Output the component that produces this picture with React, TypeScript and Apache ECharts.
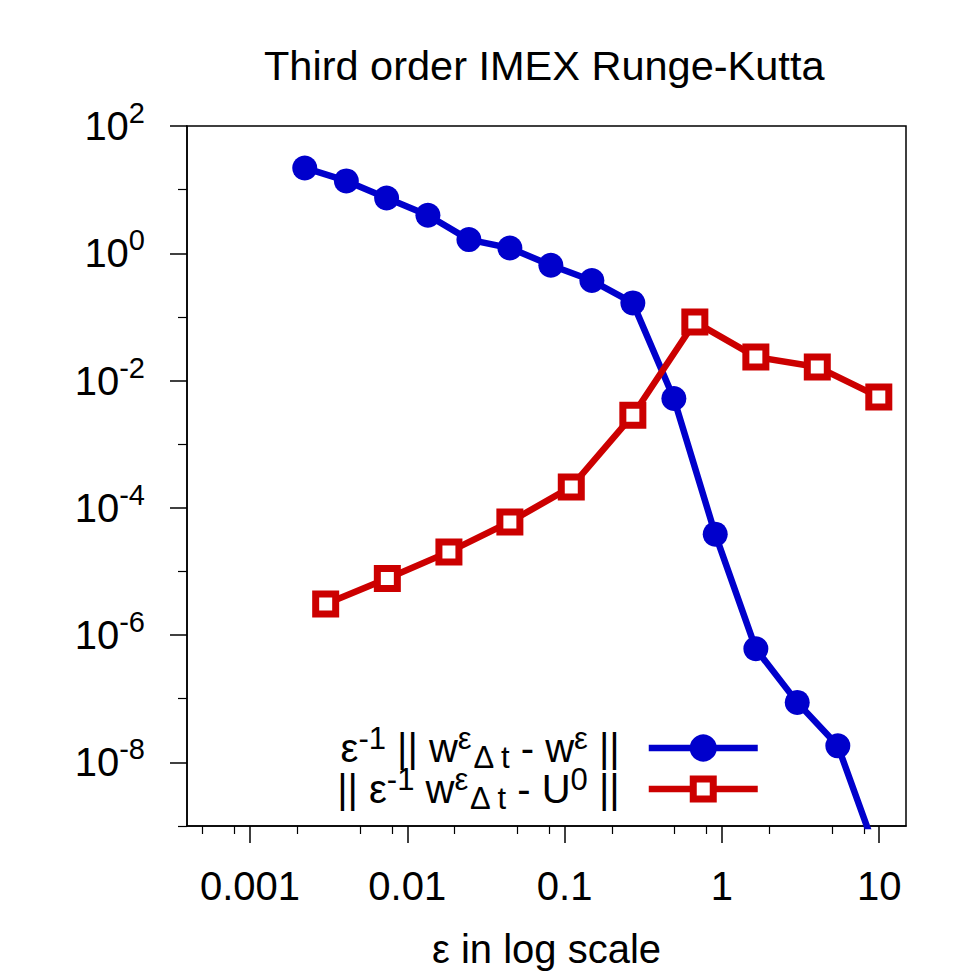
import React, { useEffect, useRef } from "react";
import * as echarts from "echarts";

// ---- data ----
const blueEps = [0.00223, 0.0041, 0.00739, 0.01353, 0.02465, 0.0449, 0.0818, 0.1491, 0.2716, 0.495, 0.907, 1.644, 3.012, 5.456, 9.94];
const blueErr = [21.9, 13.7, 7.4, 3.96, 1.64, 1.21, 0.648, 0.373, 0.166, 0.00522, 3.85e-5, 6.09e-7, 8.76e-8, 1.82e-8, 3.0e-10];
const redEps = [0.00303, 0.00747, 0.0184, 0.0449, 0.1103, 0.2716, 0.673, 1.644, 4.04, 9.94];
const redErr = [3.07e-6, 7.77e-6, 2.03e-5, 6.01e-5, 2.13e-4, 2.85e-3, 0.0834, 0.0235, 0.01637, 0.00553];

const xMajorTicks = [0.001, 0.01, 0.1, 1, 10];
const xTickLabels = ["0.001", "0.01", "0.1", "1", "10"];
const xMinorTicks = [0.0005, 0.0008, 0.002, 0.005, 0.008, 0.02, 0.05, 0.08, 0.2, 0.5, 0.8, 2, 5, 8];
const yMajorTicks = [1e-8, 1e-6, 1e-4, 1e-2, 1, 1e2];
const yTickExponents = ["-8", "-6", "-4", "-2", "0", "2"];
const yMinorTicks = [1e-9, 1e-7, 1e-5, 1e-3, 1e-1, 1e1];

const X_MIN = 0.000398;
const X_MAX = 14.8;
const Y_MIN = 1e-9;
const Y_MAX = 1e2;

const titleText = "Third order IMEX Runge-Kutta";
const xAxisName = "ε in log scale";
const blueName = "ε^-1 || w^ε_Δt - w^ε ||";
const redName = "|| ε^-1 w^ε_Δt - U^0 ||";
const blueLegendRich = "{b|ε}{sup|-1}{b| || w}{sup|ε}{sub|Δ t}{b| - w}{sup|ε}{b| ||}{gap|}";
const redLegendRich = "{b||| ε}{sup|-1}{b| w}{sup|ε}{sub|Δ t}{b| - U}{sup|0}{b| ||}{gap|}";

const BLUE = "#0000cc";
const RED = "#cc0000";
const FONT = "Liberation Sans, Arial, Helvetica, sans-serif";

function sameLog(a: number, b: number) {
  return Math.abs(Math.log10(a) - Math.log10(b)) < 1e-6;
}

export default function App() {
  const ref = useRef<HTMLDivElement>(null);

  useEffect(() => {
    document.body.style.margin = "0";
    if (!ref.current) return;
    const chart = echarts.init(ref.current, null, { renderer: "svg" });

    const gridPos = { left: 187, right: 69, top: 126, bottom: 149 };

    const option: any = {
      animation: false,
      backgroundColor: "#ffffff",
      title: {
        text: titleText,
        left: 264,
        top: 44,
        padding: 0,
        textStyle: { fontFamily: FONT, fontSize: 41.5, fontWeight: "normal", color: "#000" },
      },
      grid: [
        { ...gridPos, show: true, borderColor: "#000", borderWidth: 1.5, outerBoundsMode: "none", containLabel: false },
        { ...gridPos, show: false, outerBoundsMode: "none", containLabel: false },
      ],
      legend: {
        orient: "vertical",
        right: 214,
        top: 723,
        padding: 0,
        itemGap: -9,
        align: "right",
        itemWidth: 109,
        itemHeight: 25,
        selectedMode: false,
        data: [
          {
            name: blueName,
            itemStyle: { color: BLUE, borderColor: BLUE, borderWidth: 7 },
            lineStyle: { color: BLUE, width: 6.5 },
          },
          {
            name: redName,
            itemStyle: { color: "#fff", borderColor: RED, borderWidth: 7 },
            lineStyle: { color: RED, width: 6.5 },
          },
        ],
        formatter: (name: string) => (name === blueName ? blueLegendRich : redLegendRich),
        textStyle: {
          fontFamily: FONT,
          color: "#000",
          fontSize: 40,
          rich: {
            b: { fontFamily: FONT, fontSize: 40, lineHeight: 50, color: "#000" },
            sup: { fontFamily: FONT, fontSize: 31, lineHeight: 14, verticalAlign: "top", color: "#000" },
            sub: { fontFamily: FONT, fontSize: 31, lineHeight: 10, verticalAlign: "bottom", color: "#000" },
            gap: { width: 24 },
          },
        },
      },
      xAxis: [
        {
          type: "log",
          logBase: 10,
          gridIndex: 0,
          min: X_MIN,
          max: X_MAX,
          position: "bottom",
          name: xAxisName,
          nameLocation: "middle",
          nameGap: 103,
          nameTextStyle: { fontFamily: FONT, fontSize: 40, color: "#000" },
          axisLine: { show: true, lineStyle: { color: "#000", width: 1.5 } },
          axisTick: { show: true, inside: false, length: 17, customValues: xMajorTicks, lineStyle: { color: "#000", width: 1.5 } },
          axisLabel: {
            show: true,
            margin: 40,
            customValues: xMajorTicks,
            fontFamily: FONT,
            fontSize: 40,
            color: "#000",
            formatter: (v: number) => {
              const i = xMajorTicks.findIndex((t) => sameLog(t, v));
              return i >= 0 ? xTickLabels[i] : "";
            },
          },
          splitLine: { show: false },
          minorTick: { show: false },
        },
        {
          type: "log",
          logBase: 10,
          gridIndex: 1,
          min: X_MIN,
          max: X_MAX,
          position: "bottom",
          axisLine: { show: false },
          axisTick: { show: true, inside: false, length: 8, customValues: xMinorTicks, lineStyle: { color: "#000", width: 1.2 } },
          axisLabel: { show: false },
          splitLine: { show: false },
        },
      ],
      yAxis: [
        {
          type: "log",
          logBase: 10,
          gridIndex: 0,
          min: Y_MIN,
          max: Y_MAX,
          position: "left",
          axisLine: { show: true, lineStyle: { color: "#000", width: 1.5 } },
          axisTick: { show: true, inside: false, length: 17, customValues: yMajorTicks, lineStyle: { color: "#000", width: 1.5 } },
          axisLabel: {
            show: true,
            margin: 42,
            customValues: yMajorTicks,
            fontFamily: FONT,
            fontSize: 40,
            color: "#000",
            formatter: (v: number) => {
              const i = yMajorTicks.findIndex((t) => sameLog(t, v));
              return i >= 0 ? `{b|10}{s|${yTickExponents[i]}}` : "";
            },
            rich: {
              b: { fontFamily: FONT, fontSize: 40, lineHeight: 55, color: "#000" },
              s: { fontFamily: FONT, fontSize: 29, lineHeight: 27, verticalAlign: "top", color: "#000" },
            },
          },
          splitLine: { show: false },
          minorTick: { show: false },
        },
        {
          type: "log",
          logBase: 10,
          gridIndex: 1,
          min: Y_MIN,
          max: Y_MAX,
          position: "left",
          axisLine: { show: false },
          axisTick: { show: true, inside: false, length: 9, customValues: yMinorTicks, lineStyle: { color: "#000", width: 1.2 } },
          axisLabel: { show: false },
          splitLine: { show: false },
        },
      ],
      series: [
        {
          name: blueName,
          type: "line",
          xAxisIndex: 0,
          yAxisIndex: 0,
          data: blueEps.map((x, i) => [x, blueErr[i]]),
          symbol: "circle",
          symbolSize: 25,
          showAllSymbol: true,
          clip: true,
          lineStyle: { color: BLUE, width: 6.5 },
          itemStyle: { color: BLUE },
          z: 2,
        },
        {
          name: redName,
          type: "line",
          xAxisIndex: 0,
          yAxisIndex: 0,
          data: redEps.map((x, i) => [x, redErr[i]]),
          symbol: "rect",
          symbolSize: 20,
          showAllSymbol: true,
          clip: true,
          lineStyle: { color: RED, width: 6.5 },
          itemStyle: { color: "#fff", borderColor: RED, borderWidth: 7 },
          z: 3,
        },
      ],
    };

    chart.setOption(option);
    return () => {
      chart.dispose();
    };
  }, []);

  return <div ref={ref} style={{ width: 975, height: 975 }} />;
}
